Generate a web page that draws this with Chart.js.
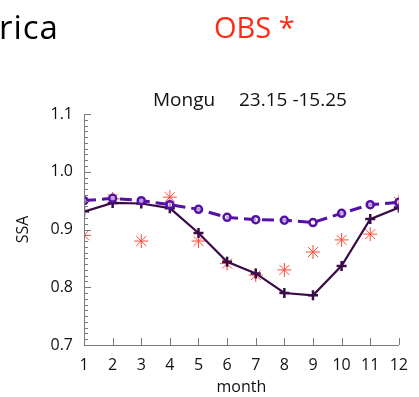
<!DOCTYPE html>
<html><head><meta charset="utf-8">
<script src="https://cdn.jsdelivr.net/npm/chart.js@4"></script>
<style>
html,body{margin:0;padding:0;background:#fff;width:419px;height:397px;overflow:hidden;font-family:"Open Sans",sans-serif;}
#wrap{position:absolute;left:0;top:0;width:419px;height:397px;}
.t{position:absolute;white-space:pre;line-height:1;}
</style></head>
<body>
<div id="wrap"><canvas id="c" width="419" height="397"></canvas></div>
<div class="t" id="region" style="left:-35px;top:10px;font-size:33px;letter-spacing:1px;color:#000;">Africa</div>
<div class="t" id="obs" style="left:214px;top:11.5px;font-size:29px;color:#ff2a14;">OBS *</div>
<div class="t" id="site" style="left:153px;top:90px;font-size:19px;color:#111;">Mongu</div>
<div class="t" id="coords" style="left:239px;top:90px;font-size:19px;color:#111;">23.15 -15.25</div>
<script>
const months = [1,2,3,4,5,6,7,8,9,10,11,12];
const modelSolid = [0.931,0.946,0.945,0.937,0.894,0.844,0.824,0.790,0.786,0.837,0.918,0.938];
const modelDashed = [0.950,0.954,0.950,0.943,0.935,0.921,0.917,0.916,0.912,0.928,0.943,0.947];
const obs = [0.890,0.953,0.880,0.956,0.880,0.841,0.821,0.830,0.861,0.882,0.892,0.948];
const yTicks = [0.7,0.8,0.9,1.0,1.1];
const xTicks = months;

const toPts = arr => months.map((m,i)=>({x:m,y:arr[i]}));

const axisPlugin = {
  id:'axisPlugin',
  afterDraw(chart){
    const ctx = chart.ctx, ca = chart.chartArea;
    const xs = chart.scales.x, ys = chart.scales.y;
    ctx.save();
    ctx.strokeStyle = '#7a7a7a';
    ctx.lineWidth = 1;
    ctx.beginPath();
    ctx.moveTo(ca.left+0.5, ca.top); ctx.lineTo(ca.left+0.5, ca.bottom+0.5);
    ctx.lineTo(ca.right, ca.bottom+0.5);
    ctx.stroke();
    ctx.beginPath();
    for (let k=70;k<=110;k++){
      const v = k/100;
      const y = Math.round(ys.getPixelForValue(v))+0.5;
      const len = (k%10===0)?7:4;
      ctx.moveTo(ca.left, y); ctx.lineTo(ca.left+len, y);
    }
    xTicks.forEach(v=>{
      const x = Math.round(xs.getPixelForValue(v))+0.5;
      ctx.moveTo(x, ca.bottom); ctx.lineTo(x, ca.bottom-7);
    });
    ctx.stroke();
    ctx.restore();
  }
};

new Chart(document.getElementById('c'),{
  type:'line',
  data:{datasets:[
    {label:'OBS', data:toPts(obs), showLine:false, pointStyle:'star', pointRadius:7, pointBorderWidth:1, borderColor:'#ff4a35', backgroundColor:'#ff4a35', order:3},
    {label:'model 1', data:toPts(modelSolid), borderColor:'#3b0a48', backgroundColor:'#3b0a48', borderWidth:2.2, pointStyle:'cross', pointRadius:5, pointBorderWidth:2.5, order:2},
    {label:'model 2', data:toPts(modelDashed), borderColor:'#5510a8', backgroundColor:'rgba(255,255,255,0.6)', borderWidth:3, borderDash:[12,6], pointStyle:'circle', pointRadius:3.5, pointBorderWidth:2.5, order:1}
  ]},
  options:{
    responsive:false, animation:false,
    layout:{padding:{left:0,right:11,top:114,bottom:0}},
    plugins:{legend:{display:false},tooltip:{enabled:false}},
    scales:{
      x:{type:'linear',min:1,max:12,
        afterBuildTicks(s){s.ticks = xTicks.map(v=>({value:v}));},
        afterFit(s){s.height=52;},
        grid:{display:false,drawTicks:false}, border:{display:false},
        ticks:{padding:11,color:'#111',font:{family:'Open Sans',size:16},maxRotation:0,autoSkip:false},
        title:{display:true,text:'month',color:'#111',font:{family:'Open Sans',size:16},padding:{top:0,bottom:0}}
      },
      y:{min:0.7,max:1.1,
        afterBuildTicks(s){s.ticks = yTicks.map(v=>({value:v}));},
        afterFit(s){s.width=84;},
        grid:{display:false,drawTicks:false}, border:{display:false},
        ticks:{padding:11,color:'#111',font:{family:'Open Sans',size:16},callback:v=>v.toFixed(1)},
        title:{display:true,text:'SSA',color:'#111',font:{family:'Open Sans',size:16},padding:{top:14,bottom:0}}
      }
    }
  },
  plugins:[axisPlugin]
});
</script>
</body></html>
